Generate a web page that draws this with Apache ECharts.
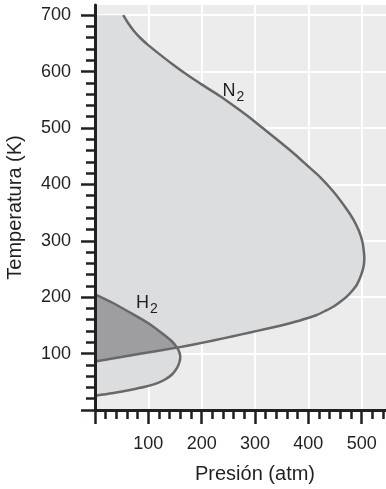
<!DOCTYPE html>
<html><head><meta charset="utf-8">
<script src="https://cdn.jsdelivr.net/npm/echarts@6/dist/echarts.min.js"></script>
<style>html,body{margin:0;padding:0;background:#fff}#c{width:386px;height:489px}</style>
</head><body><div id="c"></div>
<script>
// N2 boundary curve (pressure atm, temperature K), from top going round the nose to P=0
const n2P = [53, 62, 73, 86, 101, 122, 146, 172, 202, 234, 262, 291, 319, 347, 375, 397, 422, 446, 469, 484, 495, 501.5, 504.4, 505, 503.4, 500, 496, 490.7, 482, 472, 459.4, 446.8, 431.3, 415.7, 399.4, 384.4, 365.6, 347, 322, 290.6, 258.8, 221.8, 187.5, 153.8, 84.4, 0];
const n2T = [700, 686, 672, 658.6, 646, 630, 612.5, 594.8, 576, 556.7, 538, 517.7, 496.4, 475, 453, 434.3, 413, 388.3, 360, 338.6, 317.3, 297.8, 278.3, 266, 253.5, 242.3, 232.2, 221.6, 211, 201, 191.5, 183.1, 175.5, 168.4, 163.1, 158.7, 153.9, 149.4, 144, 137.4, 130.8, 123.2, 116.7, 110.6, 99.6, 86];
// H2 boundary curve, upper branch then lower branch
const h2P = [0, 31.9, 65.6, 99.4, 127.5, 144.4, 153.8, 158.4, 159.9, 158.4, 153.8, 144.4, 131.3, 115.7, 93.8, 65.6, 31.9, 0];
const h2T = [205, 190.6, 172.9, 154.2, 134.7, 121.4, 110.6, 101.9, 94, 85.1, 74.5, 62.9, 54.1, 47.3, 41.1, 35.5, 29.8, 25.4];
// point shared by both curves (where the N2 line crosses the H2 curve)
const crossPoint = [153.8, 110.6];
// curve labels
const labelMain = ['N', 'H'];
const labelSub = ['2', '2'];
const labelP = [239, 77];
const labelT = [565, 189];
// axes
const xTickLabels = [100, 200, 300, 400, 500];
const yTickLabels = [100, 200, 300, 400, 500, 600, 700];
const yTicks = [0, 100, 200, 300, 400, 500, 600, 700];
const xName = 'Presión (atm)';
const yName = 'Temperatura (K)';

const FONT = 'Liberation Sans, Arial, Helvetica, sans-serif';
const INK = '#231f20';
const XMIN = 0, XMAX = 600, YMIN = 0, YMAX = 718;

const chart = echarts.init(document.getElementById('c'), null, {renderer: 'canvas'});

function renderAll(params, api) {
  const n2 = n2P.map((p, i) => api.coord([p, n2T[i]]));
  const h2 = h2P.map((p, i) => api.coord([p, h2T[i]]));
  const n2Poly = n2.concat([api.coord([XMIN, n2T[0]])]);
  const jN = n2P.findIndex((p, i) => p === crossPoint[0] && n2T[i] === crossPoint[1]);
  const jH = h2P.findIndex((p, i) => p === crossPoint[0] && h2T[i] === crossPoint[1]);
  const overlap = h2.slice(0, jH + 1).concat(n2.slice(jN + 1));
  const children = [
    {type: 'polygon', shape: {points: n2Poly}, style: {fill: '#dcdddf'}},
    {type: 'polygon', shape: {points: h2}, style: {fill: '#dcdddf'}},
    {type: 'polygon', shape: {points: overlap}, style: {fill: '#9e9ea0'}},
    {type: 'polyline', shape: {points: n2, smooth: 0.2}, style: {stroke: '#686868', lineWidth: 2.5, fill: null, lineJoin: 'round'}},
    {type: 'polyline', shape: {points: h2, smooth: 0.2}, style: {stroke: '#686868', lineWidth: 2.5, fill: null, lineJoin: 'round'}}
  ];
  labelMain.forEach((t, i) => {
    const c = api.coord([labelP[i], labelT[i]]);
    children.push({type: 'text', x: c[0], y: c[1], style: {text: t, font: '18px ' + FONT, fill: INK, align: 'left', verticalAlign: 'middle'}});
    children.push({type: 'text', x: c[0] + 14, y: c[1] + 6, style: {text: labelSub[i], font: '14px ' + FONT, fill: INK, align: 'left', verticalAlign: 'middle'}});
  });
  return {type: 'group', children: children};
}

const baseX = {type: 'value', min: XMIN, max: XMAX, interval: 100, gridIndex: 0};
const baseY = {type: 'value', min: YMIN, max: YMAX, interval: 100, gridIndex: 0};

chart.setOption({
  animation: false,
  backgroundColor: '#ffffff',
  grid: {left: 95, top: 5, width: 320, height: 405, show: true, backgroundColor: '#ececec', borderWidth: 0, containLabel: false, outerBoundsMode: 'none'},
  xAxis: [
    Object.assign({}, baseX, {
      position: 'bottom', z: 0,
      axisLine: {show: false}, axisTick: {show: false}, axisLabel: {show: false},
      splitLine: {show: true, lineStyle: {color: '#ffffff', width: 2}}
    }),
    Object.assign({}, baseX, {
      position: 'bottom', z: 10,
      axisLine: {show: true, onZero: false, lineStyle: {color: INK, width: 3}},
      axisTick: {show: true, length: 14, inside: false, lineStyle: {color: INK, width: 2.5}},
      minorTick: {show: true, splitNumber: 5, length: 9, lineStyle: {color: INK, width: 2.5}},
      axisLabel: {show: true, customValues: xTickLabels, margin: 25, fontSize: 18, fontFamily: FONT, color: INK},
      splitLine: {show: false}, minorSplitLine: {show: false},
      name: xName, nameLocation: 'middle', nameGap: 54,
      nameTextStyle: {fontSize: 20, fontFamily: FONT, color: INK}
    })
  ],
  yAxis: [
    Object.assign({}, baseY, {
      position: 'left', z: 0,
      axisLine: {show: false}, axisTick: {show: false, customValues: yTicks}, axisLabel: {show: false},
      splitLine: {show: true, lineStyle: {color: '#ffffff', width: 2}}
    }),
    Object.assign({}, baseY, {
      position: 'left', z: 10,
      axisLine: {show: true, onZero: false, lineStyle: {color: INK, width: 3}},
      axisTick: {show: true, length: 14, inside: false, customValues: yTicks, lineStyle: {color: INK, width: 2.5}},
      minorTick: {show: true, splitNumber: 5, length: 9, lineStyle: {color: INK, width: 2.5}},
      axisLabel: {show: true, customValues: yTickLabels, margin: 24, fontSize: 18, fontFamily: FONT, color: INK},
      splitLine: {show: false}, minorSplitLine: {show: false},
      name: yName, nameLocation: 'middle', nameGap: 70, nameRotate: 90,
      nameTextStyle: {fontSize: 20, fontFamily: FONT, color: INK}
    })
  ],
  series: [{
    type: 'custom',
    coordinateSystem: 'cartesian2d',
    xAxisIndex: 0, yAxisIndex: 0,
    silent: true,
    z: 2,
    data: [[XMIN, YMIN]],
    renderItem: renderAll
  }]
});
</script>
</body></html>
